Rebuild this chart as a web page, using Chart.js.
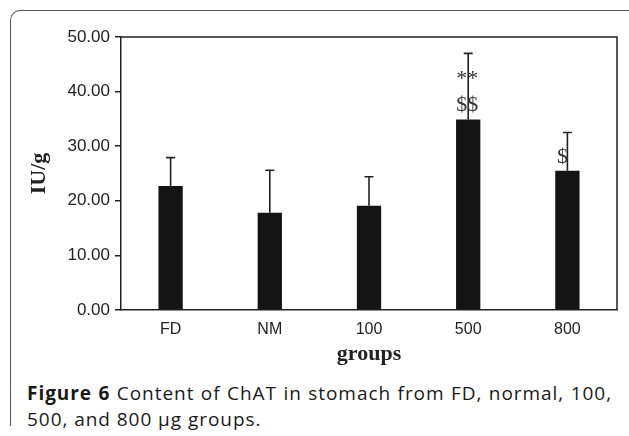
<!DOCTYPE html>
<html>
<head>
<meta charset="utf-8">
<script src="https://cdn.jsdelivr.net/npm/chart.js@4"></script>
<style>
  html, body { margin: 0; padding: 0; background: #fff; }
  #wrap { position: relative; width: 629px; height: 436px; overflow: hidden; }
  #frame {
    position: absolute; left: 10px; top: 10px; width: 630px; height: 440px;
    border: 1px solid #555; border-bottom: none; border-radius: 10px 10px 0 0;
    box-sizing: border-box;
  }
  #frameEnd { position: absolute; left: 0; top: 426px; width: 20px; height: 12px; background: #fff; }
  #charts { position: absolute; left: 0; top: 0; }
  #caption {
    position: absolute; left: 27px; top: 380px; width: 585px;
    font-family: "Open Sans", sans-serif; font-size: 19px; line-height: 26px;
    color: #1a1a1a; letter-spacing: 0.95px;
  }
  #caption .l1 { text-align: justify; text-align-last: justify; white-space: nowrap; }
  #caption b { font-weight: 700; }
</style>
</head>
<body>
<div id="wrap">
  <div id="frame"></div>
  <div id="frameEnd"></div>
  <canvas id="charts" width="629" height="370"></canvas>
  <div id="caption"><div class="l1"><b>Figure 6</b> Content of ChAT in stomach from FD, normal, 100,</div><div>500, and 800 μg groups.</div></div>
</div>
<script>
const groups = ['FD', 'NM', '100', '500', '800'];
const means = [22.7, 17.8, 19.1, 34.9, 25.5];
const sd = [5.2, 7.8, 5.3, 12.1, 7.0];
const marks = [[], [], [], ['**', '$$'], ['$']];
const yTicks = [0, 10, 20, 30, 40, 50];

const ink = '#222';

// upper error bars with a cap
const errorBars = {
    id: 'errorBars',
    afterDatasetsDraw(chart) {
        const ctx = chart.ctx;
        const y = chart.scales.y;
        const bars = chart.getDatasetMeta(0).data;
        ctx.save();
        ctx.strokeStyle = ink;
        ctx.lineWidth = 1.6;
        bars.forEach((bar, i) => {
            const top = y.getPixelForValue(means[i] + sd[i]);
            ctx.beginPath();
            ctx.moveTo(bar.x, bar.y);
            ctx.lineTo(bar.x, top);
            ctx.moveTo(bar.x - 4.5, top);
            ctx.lineTo(bar.x + 4.5, top);
            ctx.stroke();
        });
        ctx.restore();
    },
};

// significance marks sitting on the bars
const sigMarks = {
    id: 'sigMarks',
    afterDatasetsDraw(chart) {
        const ctx = chart.ctx;
        const bars = chart.getDatasetMeta(0).data;
        ctx.save();
        ctx.fillStyle = '#333';
        ctx.font = '22px "Liberation Serif", serif';
        ctx.textAlign = 'center';
        ctx.textBaseline = 'middle';
        bars.forEach((bar, i) => {
            const lines = marks[i];
            const dx = lines.length > 1 ? -1 : -5;
            lines.slice().reverse().forEach((t, k) => {
                const off = k === 0 ? 14 : 14 + 26 * k;
                ctx.fillText(t, bar.x + dx, bar.y - off);
            });
        });
        ctx.restore();
    },
};

// top and right frame of the plot area
const plotFrame = {
    id: 'plotFrame',
    afterDraw(chart) {
        const {ctx, chartArea: a} = chart;
        ctx.save();
        ctx.strokeStyle = ink;
        ctx.lineWidth = 1.5;
        ctx.beginPath();
        ctx.moveTo(a.left, a.top);
        ctx.lineTo(a.right, a.top);
        ctx.lineTo(a.right, a.bottom);
        ctx.stroke();
        ctx.restore();
    },
};

new Chart(document.getElementById('charts'), {
    type: 'bar',
    data: {
        labels: groups,
        datasets: [{
            data: means,
            backgroundColor: '#141414',
            borderWidth: 0,
            barPercentage: 0.245,
            categoryPercentage: 1,
        }],
    },
    options: {
        responsive: false,
        devicePixelRatio: 1,
        animation: false,
        layout: { padding: { left: 10, top: 37, right: 12, bottom: 0 } },
        plugins: { legend: { display: false }, tooltip: { enabled: false } },
        scales: {
            x: {
                grid: { display: false, drawTicks: false },
                border: { display: true, color: ink, width: 1.5 },
                ticks: {
                    padding: 10,
                    color: ink,
                    font: { family: '"Liberation Sans", Arial, sans-serif', size: 16 },
                },
                title: {
                    display: true,
                    text: 'groups',
                    color: ink,
                    padding: { top: 0, bottom: 2 },
                    font: { family: '"Liberation Serif", serif', size: 22, weight: 'bold' },
                },
                afterFit(scale) { scale.height = 60; },
            },
            y: {
                min: 0,
                max: 50,
                afterBuildTicks(scale) { scale.ticks = yTicks.map(v => ({ value: v })); },
                grid: { drawOnChartArea: false, drawTicks: true, tickLength: 6, color: ink, lineWidth: 1.5 },
                border: { display: true, color: ink, width: 1.5 },
                ticks: {
                    padding: 5,
                    color: ink,
                    font: { family: '"Liberation Sans", Arial, sans-serif', size: 17 },
                    callback: v => Number(v).toFixed(2),
                },
                title: {
                    display: true,
                    text: 'IU/g',
                    color: ink,
                    padding: { top: 16, bottom: 0 },
                    font: { family: '"Liberation Serif", serif', size: 22, weight: 'bold' },
                },
                afterFit(scale) { scale.width = 111; },
            },
        },
    },
    plugins: [errorBars, sigMarks, plotFrame],
});
</script>
</body>
</html>
